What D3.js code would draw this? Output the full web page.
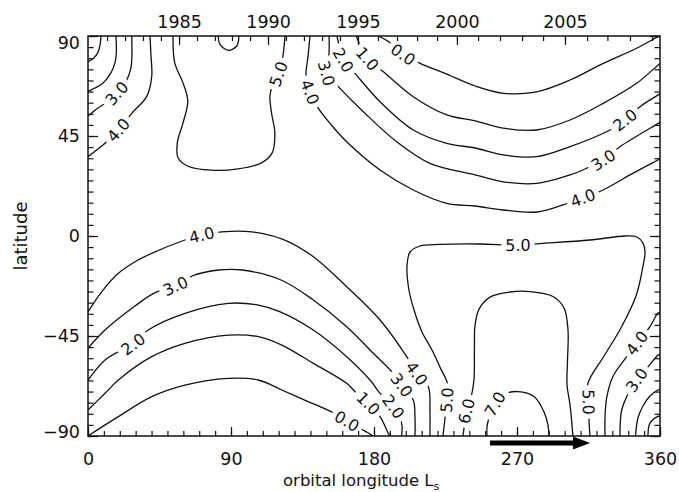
<!DOCTYPE html>
<html><head><meta charset="utf-8">
<script src="https://cdn.jsdelivr.net/npm/d3@7"></script>
<style>
body{margin:0;background:#fff;}
svg{display:block;background:#fff;}
</style></head><body>
<svg id="chart" width="679" height="492"></svg>
<script>
// ---------- data (orbital longitude Ls in degrees, latitude in degrees) ----------
const lsMajor  = [0, 90, 180, 270, 360];
const latMajor = [-90, -45, 0, 45, 90];
const years    = [1981,1982,1983,1984,1985,1986,1987,1988,1989,1990,1991,1992,1993,1994,1995,
                  1996,1997,1998,1999,2000,2001,2002,2003,2004,2005,2006,2007,2008,2009];
const yearLs   = [12.0,23.3,34.6,45.9,57.3,68.6,79.9,90.6,102.0,113.3,124.6,135.9,147.3,158.6,169.9,
                  182.5,194.5,207.1,219.7,232.2,245.5,259.3,273.2,286.4,300.2,314.1,326.9,341.1,355.0];

// contour lines, each a list of [Ls, latitude]
const nh1  = [[8.2,90],[7.6,86],[6.2,82.5],[3.5,80],[0,78.5]];
const nh2  = [[17.6,90],[17.8,82],[17,78],[14.5,73.5],[9,68.5],[4,66.5],[0,65]];
const nh3  = [[27.5,90],[27.6,80],[27.0,75.5],[24.4,70.2],[18.1,64.2],[11.5,60.0],[6.3,57.6],[0,54]];
const nh4  = [[39.0,90],[39.6,81.5],[40.1,71.7],[36.9,62.7],[27.5,55.2],[19.1,47.7],[10.7,41.7],[0,35.7]];
const nh5  = [[53.5,90],[54.6,77.9],[59.8,68.9],[62.8,60.7],[59.8,50.9],[56.2,41.9],[56.7,35.1],[63.0,31.4],
              [77.7,29.6],[94.5,30.2],[109.2,32.9],[115.9,37.4],[117.6,46.4],[115.5,55.4],[114.5,62.9],
              [116.0,67.5],[119.8,72.9],[122.6,80.7],[124.0,90]];
const nh6  = [[82.0,90],[83.1,86.2],[88.3,83.5],[93.6,85.5],[95.0,90]];
const nh4r = [[139.7,90],[138.5,81],[137.2,71.7],[139.7,64.8],[144.9,57.5],[152.3,50.7],[162.8,42.4],[183.8,29.7],
              [204.7,20.7],[225.8,14.7],[243.6,13.5],[261.2,11.7],[282.6,10.8],[299.0,14.0],[311.5,17.1],
              [324.1,20.7],[341.1,27.5],[358.7,34.2],[360,34.7]];
const nh3r = [[151.7,90],[151.7,82.2],[150.1,73.2],[157.5,67.2],[173.3,55.9],[194.3,42.4],[215.2,32.7],
              [243.6,27.5],[261.2,24.4],[282.6,23.7],[303.4,27.5],[313.9,30.5],[324.3,34.2],[334.8,40.2],
              [358.9,50.7],[360,51.2]];
const nh2r = [[156.7,90],[158.0,86],[160.7,79.2],[168.0,73.2],[183.8,60.4],[204.7,47.7],[225.8,41.7],[243.6,39.6],
              [261.4,36.5],[282.4,35.7],[303.4,40.2],[328.5,47.7],[338.0,52.2],[347.4,58.2],[358.9,63.5],[360,64]];
const nh1r = [[168.7,90],[171.2,86.0],[175.9,79.7],[185.9,73.9],[204.7,62.7],[225.8,54.5],[243.6,51.8],[261.4,48.5],
              [282.4,47.7],[303.4,52.2],[324.3,59.7],[345.3,68.7],[358.9,77.0],[360,77.6]];
const nh0r = [[182.7,90],[190.1,87.0],[198.3,81.7],[209.0,77.7],[224.6,73.2],[243.6,67.5],[261.4,64.2],[282.4,64.9],
              [303.4,70.2],[324.3,77.7],[345.3,84.5],[358.9,89.7],[360,90]];
const sh4  = [[0,-34.1],[8.6,-25.1],[19.1,-16.8],[29.6,-11.6],[40.1,-7.8],[61.0,-1.8],[71.6,0.45],[84.1,1.9],
              [103.0,1.9],[122.7,-1.5],[141.8,-9.3],[162.8,-22.8],[183.8,-37.8],[200.6,-54.3],[206.9,-61.8],
              [214.2,-67.8],[215.2,-78.3],[215.2,-90]];
const sh3  = [[0,-50.5],[10.7,-42.3],[29.6,-31.5],[42.2,-25.5],[55.1,-22.5],[65.5,-18.0],[82.3,-15.3],[97.0,-15.3],
              [121.5,-19.8],[141.8,-28.8],[162.8,-40.8],[179.6,-52.8],[192.1,-61.8],[197.4,-67.1],[204.7,-73.8],
              [205.8,-81.3],[205.8,-90]];
const sh2  = [[0,-64.8],[10.7,-55.8],[19.1,-52.1],[28.4,-48.6],[37.9,-42.3],[61.0,-34.8],[88.3,-30.3],[107.2,-31.1],
              [121.0,-34.1],[141.8,-42.3],[162.8,-54.3],[177.5,-64.8],[183.8,-70.8],[192.2,-76.8],[197.4,-84.3],[197.4,-90]];
const sh1  = [[0,-78.3],[10.7,-70.8],[19.1,-64.8],[40.1,-54.3],[61.0,-48.3],[88.3,-44.6],[107.2,-45.3],[122.0,-49.1],
              [141.8,-57.3],[162.8,-66.3],[169.1,-70.8],[176.4,-75.3],[183.8,-81.3],[189.0,-88.8],[190.0,-90]];
const sh0  = [[0,-90],[19.1,-81.3],[40.1,-72.3],[61.0,-67.1],[88.3,-64.1],[107.2,-64.8],[122.0,-69.3],[137.8,-74.3],
              [152.3,-78.8],[163.0,-83.3],[174.3,-87.8],[177.5,-89.1],[179,-90]];
const sh5  = [[223.4,-90],[224.7,-81.9],[225.9,-73.8],[226.3,-66.6],[221.5,-59.0],[216.5,-51.3],[210.2,-43.2],
              [205.2,-33.3],[202.0,-24.3],[200.8,-13.1],[202.7,-7.2],[209.0,-4.5],[221.5,-3.8],[246.7,-3.6],
              [270.6,-4.1],[284.5,-3.4],[315.9,-1.8],[338.0,0],[345.5,-0.45],[349.3,-3.2],[350.6,-7.2],[349.3,-13.5],
              [344.9,-27.0],[335.4,-41.4],[324.8,-54.0],[314.7,-66.2],[315.0,-74.7],[315.3,-82.8],[315.9,-90]];
const sh6  = [[236.0,-90],[237.0,-84.6],[238.2,-78.75],[241.1,-72.5],[242.9,-64.8],[243.2,-51.3],[243.6,-40.1],
              [246.1,-32.9],[253.0,-27.5],[265.6,-25.2],[278.2,-25.0],[292.7,-27.2],[299.6,-32.4],[302.1,-42.3],
              [301.8,-55.8],[301.5,-67.1],[303.4,-76.1],[305.2,-90]];
const sh7  = [[251.1,-90],[251.4,-84.6],[256.2,-75.6],[262.5,-71.1],[270.6,-70.0],[280.7,-72.2],[287.0,-79.2],
              [289.5,-85.1],[290.1,-90]];
const sh4r = [[325.4,-90],[325.4,-81.2],[326.6,-72.2],[330.4,-63.2],[339.2,-54.2],[345.5,-48.2],[353.7,-40.8],
              [358.7,-34.7],[360,-34.3]];
const sh3r = [[334.8,-90],[335.0,-84],[335.9,-78.3],[339.0,-72.3],[345.3,-64.8],[352.6,-58.8],[358.7,-53.6],[360,-53.2]];
const sh2r = [[344.6,-90],[346.1,-81.9],[349.3,-76.5],[353.7,-72.0],[358.7,-69.3],[360,-69]];
const sh1r = [[352.4,-90],[353.7,-84.2],[358.7,-81.2],[360,-81]];

const contourLevels = [1,2,3,4,5,6,4,3,2,1,0,4,3,2,1,0,5,6,7,4,3,2,1];
const contourLines  = [nh1,nh2,nh3,nh4,nh5,nh6,nh4r,nh3r,nh2r,nh1r,nh0r,sh4,sh3,sh2,sh1,sh0,sh5,sh6,sh7,sh4r,sh3r,sh2r,sh1r];

// contour labels: [level, Ls, latitude]
const contourLabels = [
  [3,18.1,64.2],[4,19.1,47.7],[5,119.8,72.9],
  [4,139.7,64.8],[3,150.1,73.2],[2,160.7,79.2],[1,175.9,79.7],[0,198.3,81.7],
  [2,338.0,52.2],[3,324.3,34.2],[4,311.5,17.1],
  [4,71.6,0.45],[3,55.1,-22.5],[2,28.4,-48.6],
  [0,163.0,-83.3],[1,176.4,-75.3],[2,192.2,-76.8],[3,197.4,-67.1],[4,206.9,-61.8],
  [5,225.9,-73.8],[5,270.6,-4.1],[5,315.0,-74.7],[6,238.2,-78.75],[7,256.2,-75.6],
  [4,345.5,-48.2],[3,345.3,-64.8]
];
const arrowLs = [253, 305.2, 316];

// ---------- drawing ----------
const svg = d3.select("#chart");
const FONT = "'DejaVu Sans', sans-serif";
const L = 88, R = 660, T = 36, B = 436;
const x = d3.scaleLinear().domain([0,360]).range([L,R]);
const y = d3.scaleLinear().domain([-90,90]).range([B,T]);

const defs = svg.append("defs");
defs.append("clipPath").attr("id","plotclip").append("rect")
  .attr("x",L).attr("y",T).attr("width",R-L).attr("height",B-T);

const line = d3.line().x(d=>x(d[0])).y(d=>y(d[1])).curve(d3.curveCatmullRom.alpha(0.5));

// labels first (to measure), then masks
const labelG = svg.append("g");
const labelInfo = contourLabels.map(([lev, ls, lat]) => {
  let best = null;
  contourLines.forEach((pts, ci) => {
    if (contourLevels[ci] !== lev) return;
    pts.forEach((p, i) => {
      const dd = (p[0]-ls)**2 + (p[1]-lat)**2;
      if (!best || dd < best.dd) best = {dd, ci, i};
    });
  });
  const pts = contourLines[best.ci];
  const p0 = pts[Math.max(0,best.i-1)], p1 = pts[Math.min(pts.length-1,best.i+1)];
  let ang = Math.atan2(y(p1[1])-y(p0[1]), x(p1[0])-x(p0[0]))*180/Math.PI;
  if (ang > 90) ang -= 180;
  if (ang <= -90) ang += 180;
  return {lev, ls, lat, ci: best.ci, ang};
});

const lblText = labelG.selectAll("text").data(labelInfo).join("text")
  .attr("transform", d => `translate(${x(d.ls)},${y(d.lat)}) rotate(${d.ang})`)
  .attr("text-anchor","middle")
  .attr("dy","0.36em")
  .attr("font-family", FONT)
  .attr("font-size", 16)
  .attr("fill","#111")
  .text(d => d.lev.toFixed(1));
lblText.each(function(d){ d.w = this.getComputedTextLength(); });

contourLines.forEach((pts, ci) => {
  const m = defs.append("mask").attr("id","m"+ci).attr("maskUnits","userSpaceOnUse")
    .attr("x",0).attr("y",0).attr("width",679).attr("height",492);
  m.append("rect").attr("x",0).attr("y",0).attr("width",679).attr("height",492).attr("fill","#fff");
  labelInfo.filter(d => d.ci === ci).forEach(d => {
    m.append("rect")
      .attr("x", -d.w/2 - 4).attr("y", -7.5).attr("width", d.w + 8).attr("height", 15)
      .attr("transform", `translate(${x(d.ls)},${y(d.lat)}) rotate(${d.ang})`)
      .attr("fill","#000");
  });
});

const lineG = svg.insert("g", ":first-child").attr("clip-path","url(#plotclip)");
lineG.selectAll("g").data(contourLines).join("g")
  .attr("mask", (d,i) => `url(#m${i})`)
  .append("path")
  .attr("d", d => line(d))
  .attr("fill","none")
  .attr("stroke","#111")
  .attr("stroke-width",1.3);

// axes
function styleAxis(g){
  g.attr("font-family", FONT).attr("font-size", 17.5);
  g.select(".domain").remove();
  g.selectAll(".tick line").attr("stroke","#111").attr("stroke-width",1.2);
  g.selectAll(".tick text").attr("fill","#111");
}
const minus = d => d < 0 ? "\u2212" + (-d) : String(d);

// bottom
svg.append("g").attr("transform",`translate(0,${B})`)
  .call(d3.axisBottom(x).tickValues(d3.range(0,361,10)).tickSize(-5).tickFormat(""))
  .call(styleAxis);
svg.append("g").attr("transform",`translate(0,${B})`)
  .call(d3.axisBottom(x).tickValues(lsMajor).tickSize(-9).tickPadding(16.5).tickFormat(d=>d))
  .call(styleAxis);
// top (years)
const majYearLs = yearLs.filter((v,i)=>years[i]%5===0);
const majYears  = years.filter(v=>v%5===0);
svg.append("g").attr("transform",`translate(0,${T})`)
  .call(d3.axisTop(x).tickValues(yearLs).tickSize(-5).tickFormat(""))
  .call(styleAxis);
svg.append("g").attr("transform",`translate(0,${T})`)
  .call(d3.axisTop(x).tickValues(majYearLs).tickSize(-9).tickPadding(8).tickFormat((d,i)=>majYears[i]))
  .call(styleAxis);
// left
svg.append("g").attr("transform",`translate(${L},0)`)
  .call(d3.axisLeft(y).tickValues(d3.range(-90,91,5)).tickSize(-5.5).tickFormat(""))
  .call(styleAxis);
const leftAx = svg.append("g").attr("transform",`translate(${L},0)`)
  .call(d3.axisLeft(y).tickValues(latMajor).tickSize(-10).tickPadding(8).tickFormat(minus))
  .call(styleAxis);
leftAx.selectAll(".tick text").attr("y", d => d===90 ? 7 : (d===-90 ? -4.5 : 0));
// right
svg.append("g").attr("transform",`translate(${R},0)`)
  .call(d3.axisRight(y).tickValues(d3.range(-90,91,5)).tickSize(-5.5).tickFormat(""))
  .call(styleAxis);
svg.append("g").attr("transform",`translate(${R},0)`)
  .call(d3.axisRight(y).tickValues(latMajor).tickSize(-10).tickFormat(""))
  .call(styleAxis);

// frame
svg.append("rect").attr("x",L).attr("y",T).attr("width",R-L).attr("height",B-T)
  .attr("fill","none").attr("stroke","#111").attr("stroke-width",1.5);

// arrow
const ax0 = x(arrowLs[0]), axb = x(arrowLs[1]), axt = x(arrowLs[2]);
svg.append("path")
  .attr("d", `M${ax0},440.5 L${axb},440.5 L${axb},436.5 L${axt},443 L${axb},449.5 L${axb},445.5 L${ax0},445.5 Z`)
  .attr("fill","#000");

// titles
const xt = svg.append("text").attr("x",283).attr("y",486)
  .attr("font-family",FONT).attr("font-size",16.5).attr("fill","#111");
xt.append("tspan").text("orbital longitude L");
xt.append("tspan").attr("font-size",11).attr("dy",3.5).text("s");

svg.append("text").attr("transform","translate(27,236) rotate(-90)")
  .attr("text-anchor","middle")
  .attr("font-family",FONT).attr("font-size",18).attr("fill","#111")
  .text("latitude");
</script>
</body></html>
